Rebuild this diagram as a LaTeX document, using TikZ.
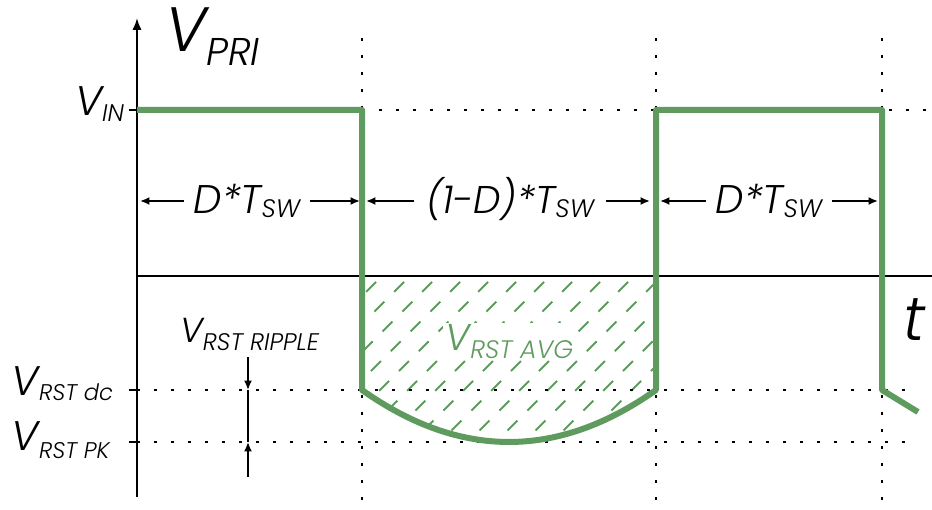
\documentclass[tikz,border=0pt]{standalone}
\usepackage{fontspec}
\setmainfont{Poppins}[UprightFont=* Light, ItalicFont=* Light Italic]
\usetikzlibrary{arrows.meta}
\definecolor{wave}{RGB}{95,155,95}
\newcommand\myfs[1]{\fontsize{#1}{#1}\selectfont\itshape}
\begin{document}
\begin{tikzpicture}[x=0.75pt,y=-0.75pt,
  axis/.style={line width=1.5pt,black},
  dotline/.style={line width=1.5pt,black,dash pattern=on 2.25pt off 10.5pt},
  wavel/.style={line width=4.5pt,wave,line join=round},
  hatchl/.style={line width=1.5pt,wave,dash pattern=on 10.5pt off 10.5pt},
  dimarrow/.style={line width=1.5pt,black,-{Latex[length=7pt,width=6pt]}},
  lab/.style={inner sep=0pt,outer sep=0pt},
  tick/.style={line width=1.5pt,black}]
\useasboundingbox (0,0) rectangle (932,510);
% coordinates
\coordinate (o) at (137,276);
\coordinate (ybot) at (137,497);
\coordinate (ytop) at (137,18);
\coordinate (xend) at (932,276);
\coordinate (a0) at (137,110);
\coordinate (a1) at (362,110);
\coordinate (a2) at (362,390);
\coordinate (a3) at (656,390);
\coordinate (a4) at (656,110);
\coordinate (a5) at (882,110);
\coordinate (a6) at (882,390);
\coordinate (a7) at (918,412);
% hatch
\begin{scope}
\clip (362,276) -- (a2) .. controls (460,459.3) and (558,459.3) .. (a3) -- (656,276) -- cycle;
\foreach \i in {0,...,19} \draw[hatchl] (160+\i*28,470) -- ++(210,-210);
\end{scope}
% dotted guides
\foreach \x in {362,656,882} \draw[dotline] (\x,38) -- (\x,512);
\draw[dotline] (362,110) -- (932,110);
\draw[dotline] (137,390) -- (912,390);
\draw[dotline] (137,442) -- (912,442);
% axes
\draw[axis,-{Latex[length=9pt,width=7pt]}] (ybot) -- (ytop);
\draw[axis] (o) -- (xend);
\foreach \y in {110,390,442} \draw[tick] (129,\y) -- (137,\y);
% waveform
\draw[wavel] (a0) -- (a1) -- (a2) .. controls (460,459.3) and (558,459.3) .. (a3) -- (a4) -- (a5) -- (a6) -- (a7);
% labels
\node[lab,anchor=base west] (vpri) at (165,52) {\myfs{47}V\raisebox{-10pt}{\myfs{29}PRI}};
\node[lab,anchor=base west] (vin) at (75,115) {\myfs{31}V\raisebox{-5pt}{\myfs{18}IN}};
\node[lab,anchor=base west] (vdc) at (12,395) {\myfs{31}V\raisebox{-4pt}{\myfs{17}RST dc}};
\node[lab,anchor=base west] (vpk) at (12,450) {\myfs{31}V\raisebox{-6pt}{\myfs{17}RST PK}};
\node[lab,anchor=base west] (vrip) at (180,342) {\myfs{26}V\raisebox{-6pt}{\myfs{18}RST RIPPLE}};
\node[lab,anchor=base west,text=wave,fill=white,inner xsep=2pt,inner ysep=1pt] (vavg) at (443,350) {\myfs{28}V\raisebox{-6pt}{\myfs{19}RST AVG}};
\node[lab,anchor=base west] (tlab) at (903,340) {\myfs{46}t};
% dimension labels
\node[lab,anchor=base] (d1) at (247,213) {\myfs{30}D*T\raisebox{-3pt}{\myfs{19}SW}};
\node[lab,anchor=base] (d2) at (510,213) {\myfs{29}(1-D)*T\raisebox{-3pt}{\myfs{19}SW}};
\node[lab,anchor=base] (d3) at (769,213) {\myfs{30}D*T\raisebox{-3pt}{\myfs{19}SW}};
\coordinate (d1l) at (140,201); \coordinate (d1r) at (360,201);
\coordinate (d2l) at (366,201); \coordinate (d2r) at (650,201);
\coordinate (d3l) at (660,201); \coordinate (d3r) at (878,201);
\draw[dimarrow] (d1.west |- d1l) ++(-10,0) -- (d1l);
\draw[dimarrow] (d1.east |- d1r) ++(10,0) -- (d1r);
\draw[dimarrow] (d2.west |- d2l) ++(-12,0) -- (d2l);
\draw[dimarrow] (d2.east |- d2r) ++(12,0) -- (d2r);
\draw[dimarrow] (d3.west |- d3l) ++(-10,0) -- (d3l);
\draw[dimarrow] (d3.east |- d3r) ++(10,0) -- (d3r);
% ripple arrows
\coordinate (r0) at (248,357);
\coordinate (r1) at (248,390);
\coordinate (r2) at (248,442);
\coordinate (r3) at (248,477);
\draw[dimarrow] (r0) -- (r1);
\draw[axis] (r1) -- (r2);
\draw[dimarrow] (r3) -- (r2);
\end{tikzpicture}
\end{document}
